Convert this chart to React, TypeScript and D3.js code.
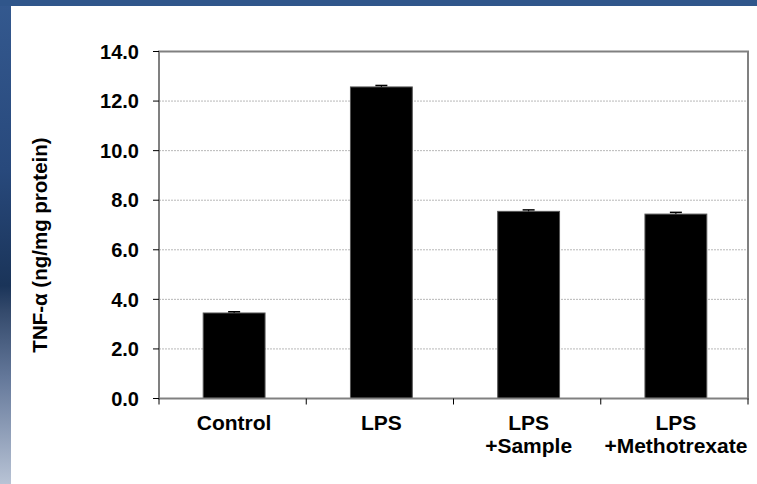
import { useEffect, useRef } from "react";
import * as d3 from "d3";

const categories = ["Control", "LPS", "LPS\n+Sample", "LPS\n+Methotrexate"];
const values = [3.45, 12.57, 7.55, 7.44];
const errors = [0.05, 0.06, 0.06, 0.07];
const yTicks = [0, 2, 4, 6, 8, 10, 12, 14];

export default function App() {
  const svgRef = useRef<SVGSVGElement | null>(null);

  useEffect(() => {
    if (!svgRef.current) return;
    const svg = d3.select(svgRef.current);
    svg.selectAll("*").remove();

    const W = 757;
    const H = 484;
    const left = 159;
    const right = 748;
    const top = 51.5;
    const bottom = 398.5;
    const font = "'Liberation Sans', Arial, sans-serif";

    // background + blue frame
    svg.append("rect").attr("width", W).attr("height", H).attr("fill", "#ffffff");
    const defs = svg.append("defs");
    const grad = defs
      .append("linearGradient")
      .attr("id", "sideGrad")
      .attr("x1", "0%")
      .attr("y1", "0%")
      .attr("x2", "0%")
      .attr("y2", "100%");
    [
      ["0%", "#34598f"],
      ["35%", "#28497c"],
      ["59%", "#1a3459"],
      ["64%", "#33496b"],
      ["78%", "#64789a"],
      ["100%", "#b8c3d5"],
    ].forEach(([o, c]) => grad.append("stop").attr("offset", o).attr("stop-color", c));
    svg.append("rect").attr("x", 0).attr("y", 0).attr("width", 11).attr("height", H).attr("fill", "url(#sideGrad)");
    svg.append("rect").attr("x", 0).attr("y", 0).attr("width", W).attr("height", 6).attr("fill", "#30568b");

    const x = d3.scaleBand<string>().domain(categories).range([left, right]).padding(0);
    const y = d3.scaleLinear().domain([0, 14]).range([bottom, top]);

    const g = svg.append("g");

    // gridlines
    g.selectAll("line.grid")
      .data(yTicks.filter((t) => t > 0 && t < 14))
      .join("line")
      .attr("x1", left)
      .attr("x2", right)
      .attr("y1", (d) => y(d))
      .attr("y2", (d) => y(d))
      .attr("stroke", "#b8b8b8")
      .attr("stroke-width", 1)
      .attr("stroke-dasharray", "2,1");

    // bars
    const bw = x.bandwidth() * 0.42;
    g.selectAll("rect.bar")
      .data(values)
      .join("rect")
      .attr("x", (_, i) => x(categories[i])! + x.bandwidth() / 2 - bw / 2 + 1.5)
      .attr("y", (d) => y(d))
      .attr("width", bw)
      .attr("height", (d) => bottom - y(d))
      .attr("fill", "#000000")
      .attr("stroke", "#555555")
      .attr("stroke-width", 1);

    // error bars
    const capW = 12;
    values.forEach((v, i) => {
      const cx = x(categories[i])! + x.bandwidth() / 2 + 1.5;
      g.append("line")
        .attr("x1", cx)
        .attr("x2", cx)
        .attr("y1", y(v))
        .attr("y2", y(v + errors[i]))
        .attr("stroke", "#000")
        .attr("stroke-width", 1);
      g.append("line")
        .attr("x1", cx - capW / 2)
        .attr("x2", cx + capW / 2)
        .attr("y1", y(v + errors[i]))
        .attr("y2", y(v + errors[i]))
        .attr("stroke", "#000")
        .attr("stroke-width", 1.5);
    });

    // frame
    g.append("rect")
      .attr("x", left)
      .attr("y", top)
      .attr("width", right - left)
      .attr("height", bottom - top)
      .attr("fill", "none")
      .attr("stroke", "#808080")
      .attr("stroke-width", 2);

    // y axis ticks and labels
    yTicks.forEach((t) => {
      g.append("line")
        .attr("x1", left - 6)
        .attr("x2", left)
        .attr("y1", y(t))
        .attr("y2", y(t))
        .attr("stroke", "#000")
        .attr("stroke-width", 1);
      g.append("text")
        .attr("x", 139)
        .attr("y", y(t))
        .attr("dy", "0.36em")
        .attr("text-anchor", "end")
        .attr("font-family", font)
        .attr("font-weight", "bold")
        .attr("font-size", 20)
        .attr("fill", "#000")
        .text(t.toFixed(1));
    });

    // x axis ticks
    const bounds = [...categories.map((c) => x(c)!), right];
    bounds.forEach((b) => {
      g.append("line")
        .attr("x1", b)
        .attr("x2", b)
        .attr("y1", bottom)
        .attr("y2", bottom + 6)
        .attr("stroke", "#000")
        .attr("stroke-width", 1);
    });

    // x labels
    categories.forEach((c) => {
      const cx = x(c)! + x.bandwidth() / 2 + 1.5;
      const lines = c.split("\n");
      const t = g
        .append("text")
        .attr("text-anchor", "middle")
        .attr("font-family", font)
        .attr("font-weight", "bold")
        .attr("font-size", 21)
        .attr("fill", "#000");
      lines.forEach((l, i) => {
        t.append("tspan")
          .attr("x", cx)
          .attr("y", 430 + i * 23)
          .text(l);
      });
    });

    // y title
    g.append("text")
      .attr("transform", `translate(47,245) rotate(-90)`)
      .attr("text-anchor", "middle")
      .attr("font-family", font)
      .attr("font-weight", "bold")
      .attr("font-size", 20.5)
      .attr("fill", "#000")
      .text("TNF-α (ng/mg protein)");
  }, []);

  return (
    <div style={{ position: "absolute", left: 0, top: 0 }}>
      <svg ref={svgRef} width={757} height={484} style={{ display: "block" }} />
    </div>
  );
}
